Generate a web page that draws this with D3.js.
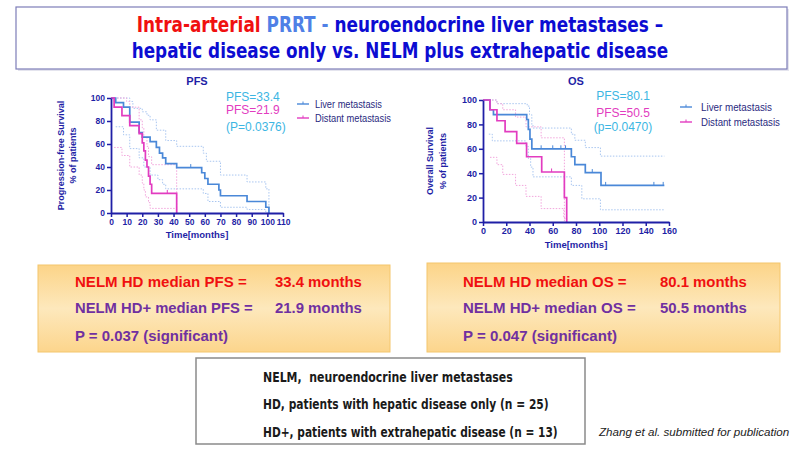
<!DOCTYPE html>
<html lang="en">
<head>
<meta charset="utf-8">
<title>Intra-arterial PRRT - NELM survival</title>
<script src="https://cdn.jsdelivr.net/npm/d3@7"></script>
<style>
  body { margin: 0; background: #fff; }
  svg { display: block; font-family: Arial, "Liberation Sans", sans-serif; }
</style>
</head>
<body>
<svg id="slide" width="800" height="450"></svg>
<script>

// ---- data ----
var pfsTicksX = [0,10,20,30,40,50,60,70,80,90,100,110];
var osTicksX = [0,20,40,60,80,100,120,140,160];
var survTicks = [0,20,40,60,80,100];
var seriesNames = ["Liver metastasis", "Distant metastasis"];

// PFS, liver only (n=25)
var pfsLiverT = [0,3,8,12,18,20,25,29,31,33,35,42,58,60,62,69,70,87,99,101];
var pfsLiverS = [100,96,92,79,70,66,62,57,52,48,43,39.5,35,30,25,20,15,10,5,0];
var pfsLiverCens = [51];
var pfsLiverHiT = [0,12,14,20,23,25,29,35,42,59,61,70,87,99,101];
var pfsLiverHiS = [100,97,91,88,85,81,72,63,58,52,45,33,27,21,0];
var pfsLiverLoT = [3,8,12,18,21,25,30,33,35,59,62,70,87,99,101];
var pfsLiverLoS = [75,68,56,48,40,33,29,25,21,17,10,5,3,0,0];

// PFS, distant (n=13)
var pfsDistT = [0,2,7,12,18,20,21,22,23,24,25,26,42];
var pfsDistS = [100,92,84.6,76,69,61,54,46,40,32,25,17,0];
var pfsDistCens = [36];
var pfsDistHiT = [0,10,12,18,20,21,23,24,26,42];
var pfsDistHiS = [100,97,92,81,74,66,58,49,42,0];
var pfsDistLoT = [2,7,12,18,20,21,22,24,25,42];
var pfsDistLoS = [57,50,40,33,26,20,14,9,4,0];

// OS, liver only
var osLiverT = [0,6,9,37.6,39,40.4,42,76,79,88,101.5,156];
var osLiverS = [100,92,88,84,76,68,60,53.5,47,40.5,30,30];
var osLiverCens = [50,60,67,71,94,105.5,147,155];
var osLiverHiT = [0,12,38,40,42,43,76,79,88,101,156];
var osLiverHiS = [100,97,95,88,80,77,72,67,61,54,54];
var osLiverLoT = [5,8,37,39,41,43,76,85,101,156];
var osLiverLoS = [72,66.5,62,52,45,37,30,19,10,10];

// OS, distant
var osDistT = [0,6,12,19,29,37.5,50.5,70,72];
var osDistS = [100,92,83,74,64.5,53.5,41,20,0];
var osDistCens = [59];
var osDistHiT = [0,12,17,28,37,50,70];
var osDistHiS = [100,97,92,86,78,69,0];
var osDistLoT = [6,12,17,28,37,50,69.5,72];
var osDistLoS = [53,47,39,30,21,11,3,0];

var pfsNotes = ["PFS=33.4", "PFS=21.9", "(P=0.0376)"];
var osNotes = ["PFS=80.1", "PFS=50.5", "(p=0.0470)"];

var pfsBox = [["NELM HD median PFS =", "33.4 months"], ["NELM HD+ median PFS =", "21.9 months"], ["P = 0.037 (significant)", ""]];
var osBox = [["NELM HD median OS =", "80.1 months"], ["NELM HD+ median OS =", "50.5 months"], ["P = 0.047 (significant)", ""]];
var legendNotes = ["NELM,  neuroendocrine liver metastases",
                   "HD, patients with hepatic disease only (n = 25)",
                   "HD+, patients with extrahepatic disease (n = 13)"];
var citation = "Zhang et al. submitted for publication";

// ---- colours ----
var navy = "#1f1fa6";
var blue = "#4a88d8", pink = "#e23cc0";
var blueCI = "#a9c6f0", pinkCI = "#f2a6dc";
var noteBlue = "#3cb6e3";
var narrow = "'Liberation Sans Narrow', 'DejaVu Sans Condensed', 'Open Sans', sans-serif";

var svg = d3.select("#slide");
svg.append("rect").attr("width", 800).attr("height", 450).attr("fill", "#fff");

// squeeze / stretch a text so it spans w px (keeps its x as anchor)
function fit(t, w) {
  var bb = t.node().getBBox();
  var x0 = +t.attr("x");
  var k = w / bb.width;
  t.attr("transform", "translate(" + x0 + ",0) scale(" + k + ",1) translate(" + (-x0) + ",0)");
}

// ---- title ----
svg.append("rect")
  .attr("x", 18).attr("y", 9).attr("width", 771).attr("height", 62)
  .attr("fill", "#e4e4ee");
svg.append("rect")
  .attr("x", 16).attr("y", 7).attr("width", 771).attr("height", 62)
  .attr("fill", "#fff").attr("stroke", "#7d7db8").attr("stroke-width", 1.2);

var t1 = svg.append("text")
  .attr("x", 400).attr("y", 32).attr("text-anchor", "middle")
  .style("font-family", narrow).style("font-size", "21px").style("font-weight", "bold");
t1.append("tspan").attr("fill", "#f01010").text("Intra-arterial ");
t1.append("tspan").attr("fill", "#4f80e6").text("PRRT - ");
t1.append("tspan").attr("fill", "#0c0cd2").text("neuroendocrine liver metastases \u2013");
fit(t1, 527);

var t2 = svg.append("text")
  .attr("x", 400).attr("y", 58).attr("text-anchor", "middle")
  .style("font-family", narrow).style("font-size", "21px").style("font-weight", "bold")
  .attr("fill", "#0c0cd2")
  .text("hepatic disease only vs. NELM plus extrahepatic disease");
fit(t2, 537);

// ---- Kaplan-Meier panel ----
function stepAt(T, S, t) {
  var s = S[0];
  for (var i = 0; i < T.length; i++) if (T[i] <= t) s = S[i];
  return s;
}

function drawKM(p) {
  var g = svg.append("g");
  var x = d3.scaleLinear().domain([0, p.xmax]).range(p.xr);
  var y = d3.scaleLinear().domain([0, 100]).range(p.yr);
  var line = d3.line().x(function(d){ return x(d[0]); }).y(function(d){ return y(d[1]); })
    .curve(d3.curveStepAfter);

  // confidence bands first (dotted)
  p.ci.forEach(function(c) {
    g.append("path").datum(d3.zip(c.T, c.S)).attr("d", line)
      .attr("fill", "none").attr("stroke", c.color).attr("stroke-width", 1)
      .attr("stroke-dasharray", "1.5,1.5");
  });

  // curves + censor ticks
  p.curves.forEach(function(c) {
    g.append("path").datum(d3.zip(c.T, c.S)).attr("d", line)
      .attr("fill", "none").attr("stroke", c.color).attr("stroke-width", 1.7);
    g.selectAll(null).data(c.cens).enter().append("line")
      .attr("x1", function(d){ return x(d); }).attr("x2", function(d){ return x(d); })
      .attr("y1", function(d){ return y(stepAt(c.T, c.S, d)); })
      .attr("y2", function(d){ return y(stepAt(c.T, c.S, d)) - 3.5; })
      .attr("stroke", c.color).attr("stroke-width", 1);
  });

  // axes
  var xa = g.append("g").attr("transform", "translate(0," + p.yr[0] + ")")
    .call(d3.axisBottom(x).tickValues(p.ticksX).tickSize(4).tickSizeOuter(0).tickPadding(2));
  var ya = g.append("g").attr("transform", "translate(" + p.xr[0] + ",0)")
    .call(d3.axisLeft(y).tickValues(survTicks).tickSize(4).tickSizeOuter(0).tickPadding(2));
  [xa, ya].forEach(function(a) {
    a.select(".domain").attr("stroke", navy).attr("stroke-width", 1.8);
    a.selectAll(".tick line").attr("stroke", navy).attr("stroke-width", 1.5);
    a.selectAll(".tick text").attr("fill", navy)
      .style("font-size", p.tickFont).style("font-weight", "bold").style("font-family", "Arial, 'Liberation Sans', sans-serif");
  });

  // titles
  var mid = (p.xr[0] + p.xr[1]) / 2;
  g.append("text").attr("x", mid).attr("y", p.titleY).attr("text-anchor", "middle")
    .attr("fill", navy).style("font-size", "11px").style("font-weight", "bold").text(p.title);
  g.append("text").attr("x", mid).attr("y", p.xLabelY).attr("text-anchor", "middle")
    .attr("fill", navy).style("font-size", "9.5px").style("font-weight", "bold").text("Time[months]");
  var ymid = (p.yr[0] + p.yr[1]) / 2;
  p.yLabel.forEach(function(s, i) {
    g.append("text").attr("transform", "translate(" + p.yLabelX[i] + "," + ymid + ") rotate(-90)")
      .attr("text-anchor", "middle").attr("fill", navy)
      .style("font-size", "9px").style("font-weight", "bold").text(s);
  });

  // legend
  p.curves.forEach(function(c, i) {
    var ly = p.legY[i];
    g.append("line").attr("x1", p.legX).attr("x2", p.legX + 12).attr("y1", ly).attr("y2", ly)
      .attr("stroke", c.color).attr("stroke-width", 1.4);
    g.append("line").attr("x1", p.legX + 6).attr("x2", p.legX + 6).attr("y1", ly - 2.5).attr("y2", ly)
      .attr("stroke", c.color).attr("stroke-width", 1);
    var lt = g.append("text").attr("x", p.legTextX).attr("y", ly + 3.6).attr("fill", "#2a2a80")
      .style("font-size", "10.5px").text(seriesNames[i]);
    fit(lt, p.legW[i]);
  });

  // median / p annotations
  var noteCols = [noteBlue, pink, noteBlue];
  p.notes.forEach(function(s, i) {
    g.append("text").attr("x", p.noteX).attr("y", p.noteY[i]).attr("text-anchor", p.noteAnchor)
      .attr("fill", noteCols[i]).style("font-size", p.noteFont).text(s);
  });
}

drawKM({
  title: "PFS", xmax: 110, xr: [111, 283], yr: [213, 98], ticksX: pfsTicksX,
  tickFont: "8.5px", titleY: 85, xLabelY: 238,
  yLabel: ["Progression-free Survival", "% of patients"], yLabelX: [64, 76],
  legX: 297, legTextX: 315, legY: [104, 118], legW: [67, 76],
  notes: pfsNotes, noteX: 226, noteY: [101, 114, 131], noteAnchor: "start", noteFont: "12px",
  curves: [
    { T: pfsLiverT, S: pfsLiverS, cens: pfsLiverCens, color: blue },
    { T: pfsDistT, S: pfsDistS, cens: pfsDistCens, color: pink }
  ],
  ci: [
    { T: pfsLiverHiT, S: pfsLiverHiS, color: blueCI },
    { T: pfsLiverLoT, S: pfsLiverLoS, color: blueCI },
    { T: pfsDistHiT, S: pfsDistHiS, color: pinkCI },
    { T: pfsDistLoT, S: pfsDistLoS, color: pinkCI }
  ]
});

drawKM({
  title: "OS", xmax: 160, xr: [483, 669], yr: [222, 100], ticksX: osTicksX,
  tickFont: "9px", titleY: 85, xLabelY: 248,
  yLabel: ["Overall Survival", "% of patients"], yLabelX: [433, 446],
  legX: 680, legTextX: 701, legY: [107, 122], legW: [71, 79],
  notes: osNotes, noteX: 623, noteY: [100, 117, 131], noteAnchor: "middle", noteFont: "12px",
  curves: [
    { T: osLiverT, S: osLiverS, cens: osLiverCens, color: blue },
    { T: osDistT, S: osDistS, cens: osDistCens, color: pink }
  ],
  ci: [
    { T: osLiverHiT, S: osLiverHiS, color: blueCI },
    { T: osLiverLoT, S: osLiverLoS, color: blueCI },
    { T: osDistHiT, S: osDistHiS, color: pinkCI },
    { T: osDistLoT, S: osDistLoS, color: pinkCI }
  ]
});

// ---- orange summary boxes ----
var defs = svg.append("defs");
var grad = defs.append("linearGradient").attr("id", "orange").attr("x1", 0).attr("y1", 0).attr("x2", 0).attr("y2", 1);
grad.append("stop").attr("offset", "0%").attr("stop-color", "#fcd488");
grad.append("stop").attr("offset", "50%").attr("stop-color", "#fde8bc");
grad.append("stop").attr("offset", "100%").attr("stop-color", "#fcd58c");

function summaryBox(rows, bx, by, bw, bh, tx, vx, widths) {
  svg.append("rect").attr("x", bx).attr("y", by).attr("width", bw).attr("height", bh)
    .attr("fill", "url(#orange)").attr("stroke", "#f4c66c").attr("stroke-width", 1);
  var ys = [287, 313, 341];
  rows.forEach(function(r, i) {
    var col = i === 0 ? "#f01010" : "#7030a0";
    var a = svg.append("text").attr("x", tx).attr("y", ys[i]).attr("fill", col)
      .style("font-size", "15px").style("font-weight", "bold").text(r[0]);
    fit(a, widths[i][0]);
    if (r[1]) {
      var b = svg.append("text").attr("x", vx).attr("y", ys[i]).attr("fill", col)
        .style("font-size", "15px").style("font-weight", "bold").text(r[1]);
      fit(b, widths[i][1]);
    }
  });
}
summaryBox(pfsBox, 38, 265, 352, 87, 75, 275, [[172, 87], [178, 87], [153, 0]]);
summaryBox(osBox, 427, 263, 353, 89, 463, 660, [[164, 87], [173, 87], [154, 0]]);

// ---- abbreviations box ----
svg.append("rect").attr("x", 196).attr("y", 358).attr("width", 389).attr("height", 86)
  .attr("fill", "#fff").attr("stroke", "#8a8a8a").attr("stroke-width", 1.5);
var noteW = [250, 286, 295];
var noteY = [382, 409, 437];
legendNotes.forEach(function(s, i) {
  var t = svg.append("text").attr("x", 263).attr("y", noteY[i]).attr("fill", "#1a1a1a")
    .style("font-family", narrow).style("font-size", "14px").style("font-weight", "bold")
    .style("white-space", "pre").text(s);
  fit(t, noteW[i]);
});

var c = svg.append("text").attr("x", 599).attr("y", 436).attr("fill", "#222")
  .style("font-size", "10px").style("font-style", "italic").text(citation);
fit(c, 192);

</script>
</body>
</html>
